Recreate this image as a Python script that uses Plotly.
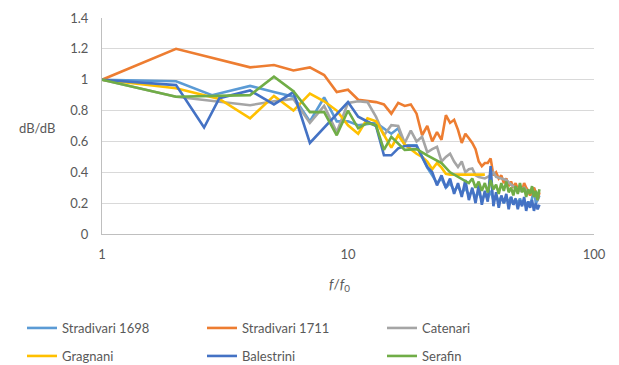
import plotly.graph_objects as go

# ---- data ----
names = ["Stradivari 1698", "Stradivari 1711", "Catenari", "Gragnani", "Balestrini", "Serafin"]
colors = ["#5B9BD5", "#ED7D31", "#A5A5A5", "#FFC000", "#4472C4", "#70AD47"]

x_s1698 = [1, 2, 2.8, 4, 5, 6, 7, 8, 9, 10, 11, 13, 15, 16, 17, 18, 19, 20, 21, 22, 23, 24, 25, 26, 27, 28, 29, 30,
           31, 32, 33, 34, 35, 36, 37, 38, 39, 40, 41, 42, 43, 44, 45, 46, 47, 48, 49, 50, 51, 52, 53, 54, 55, 56,
           57, 58, 59, 60]
y_s1698 = [1.0, 0.99, 0.90, 0.96, 0.92, 0.89, 0.73, 0.885, 0.73, 0.73, 0.705, 0.72, 0.65, 0.685, 0.575, 0.575, 0.575,
           0.50, 0.43, 0.38, 0.33, 0.36, 0.30, 0.33, 0.28, 0.31, 0.26, 0.30, 0.25, 0.28, 0.24, 0.27, 0.22, 0.26,
           0.23, 0.28, 0.22, 0.25, 0.21, 0.24, 0.20, 0.23, 0.21, 0.24, 0.19, 0.22, 0.20, 0.23, 0.19, 0.22, 0.18,
           0.21, 0.19, 0.23, 0.30, 0.20, 0.22, 0.25]

x_s1711 = [1, 2, 4, 5, 6, 7, 8, 9, 10, 11, 13, 14, 15, 16, 17, 18, 19, 20, 21, 22, 23, 24, 25, 26, 27, 28, 29, 30,
           31, 32, 33, 34, 35, 36, 37, 38, 39, 40, 41, 42, 43, 44, 45, 46, 47, 48, 49, 50, 51, 52, 53, 54, 55, 56,
           57, 58, 59, 60]
y_s1711 = [1.0, 1.2, 1.08, 1.095, 1.06, 1.08, 1.03, 0.92, 0.935, 0.87, 0.855, 0.84, 0.78, 0.85, 0.83, 0.84, 0.78,
           0.64, 0.70, 0.60, 0.66, 0.61, 0.77, 0.72, 0.74, 0.675, 0.59, 0.65, 0.62, 0.59, 0.55, 0.47, 0.44, 0.46,
           0.46, 0.49, 0.38, 0.40, 0.36, 0.38, 0.33, 0.36, 0.31, 0.34, 0.30, 0.33, 0.29, 0.31, 0.28, 0.33, 0.30,
           0.27, 0.25, 0.28, 0.30, 0.27, 0.22, 0.27]

x_cat = [1, 2, 4, 5, 6, 7, 8, 9, 10, 11, 12, 13, 14, 15, 16, 17, 18, 19, 20, 21, 22, 23, 24, 25, 26, 27, 28, 29,
         30, 31, 32, 33, 34, 36, 38, 39, 40, 42, 44, 46, 48, 50, 52, 54, 56, 58, 60]
y_cat = [1.0, 0.89, 0.835, 0.86, 0.875, 0.72, 0.83, 0.66, 0.85, 0.86, 0.855, 0.76, 0.64, 0.705, 0.70, 0.59, 0.67,
         0.60, 0.63, 0.53, 0.55, 0.565, 0.47, 0.50, 0.52, 0.47, 0.435, 0.47, 0.40, 0.42, 0.425, 0.38, 0.37, 0.36,
         0.38, 0.40, 0.37, 0.36, 0.35, 0.32, 0.30, 0.28, 0.30, 0.27, 0.28, 0.26, 0.27]

x_gra = [1, 2, 3, 4, 5, 6, 7, 8, 9, 10, 11, 12, 13, 14, 15, 16, 17, 18, 19, 20, 21, 22, 23, 24, 25, 26, 27, 36]
y_gra = [1.0, 0.945, 0.875, 0.75, 0.895, 0.80, 0.91, 0.86, 0.80, 0.705, 0.65, 0.75, 0.73, 0.64, 0.56, 0.64, 0.58,
         0.55, 0.52, 0.50, 0.47, 0.42, 0.46, 0.43, 0.39, 0.385, 0.385, 0.385]

x_bal = [1, 2, 2.6, 3, 4, 5, 6, 7, 10, 11, 13, 14, 15, 16, 17, 19, 21, 22, 23, 24, 25, 26, 27, 28, 29, 30, 31, 32,
         33, 34, 35, 36, 37, 38, 39, 40, 41, 42, 43, 44, 45, 46, 47, 48, 49, 50, 51, 52, 53, 54, 55, 56, 57, 58,
         59, 60]
y_bal = [1.0, 0.965, 0.69, 0.88, 0.93, 0.84, 0.92, 0.59, 0.855, 0.76, 0.70, 0.51, 0.51, 0.555, 0.57, 0.57, 0.435,
         0.40, 0.315, 0.38, 0.30, 0.36, 0.26, 0.33, 0.24, 0.35, 0.22, 0.30, 0.20, 0.32, 0.19, 0.28, 0.21, 0.44,
         0.18, 0.27, 0.17, 0.25, 0.20, 0.26, 0.16, 0.24, 0.19, 0.23, 0.16, 0.22, 0.18, 0.24, 0.15, 0.21, 0.17,
         0.22, 0.15, 0.20, 0.16, 0.19]

x_ser = [1, 2, 4, 5, 6, 7, 8, 9, 10, 11, 12, 13, 14, 15, 17, 19, 21, 24, 26, 28, 30, 31, 32, 33, 34, 35, 36, 37,
         38, 39, 40, 41, 42, 43, 44, 45, 46, 47, 48, 49, 50, 51, 52, 53, 54, 55, 56, 57, 58, 59, 60]
y_ser = [1.0, 0.89, 0.90, 1.02, 0.925, 0.79, 0.79, 0.64, 0.80, 0.685, 0.72, 0.705, 0.545, 0.63, 0.545, 0.55, 0.51,
         0.46, 0.40, 0.37, 0.34, 0.33, 0.36, 0.30, 0.34, 0.28, 0.33, 0.27, 0.35, 0.29, 0.32, 0.26, 0.33, 0.28,
         0.34, 0.27, 0.30, 0.25, 0.31, 0.26, 0.33, 0.27, 0.30, 0.24, 0.29, 0.26, 0.31, 0.24, 0.28, 0.22, 0.29]

xs = [x_s1698, x_s1711, x_cat, x_gra, x_bal, x_ser]
ys = [y_s1698, y_s1711, y_cat, y_gra, y_bal, y_ser]

y_ticks = [0, 0.2, 0.4, 0.6, 0.8, 1, 1.2, 1.4]
y_ticktext = ["0", "0.2", "0.4", "0.6", "0.8", "1", "1.2", "1.4"]
x_ticks = [1, 10, 100]
x_ticktext = ["1", "10", "100"]

FONT = "Lato"
TXT = "#595959"

fig = go.Figure()
for i, (n, c, x, y) in enumerate(zip(names, colors, xs, ys)):
    fig.add_trace(go.Scatter(
        x=x, y=y, name=n, mode="lines",
        line=dict(color=c, width=2.6),
        legend="legend" if i < 3 else "legend2",
    ))

W, H = 619, 365
L, R, T, B = 102, 25, 18, 131
pw, ph = W - L - R, H - T - B

def px(xp):
    return (xp - L) / pw

def py(yp):
    return (H - B - yp) / ph

legend_common = dict(
    orientation="h", entrywidth=135, entrywidthmode="pixels",
    font=dict(family=FONT, size=13, color=TXT),
    bgcolor="rgba(0,0,0,0)", itemwidth=30,
    xanchor="left", yanchor="middle",
    tracegroupgap=0,
)

fig.update_layout(
    width=W, height=H,
    margin=dict(l=L, r=R, t=T, b=B, autoexpand=False),
    paper_bgcolor="white", plot_bgcolor="white",
    font=dict(family=FONT, size=13, color=TXT),
    showlegend=True,
    legend=dict(x=px(22), y=py(328), **legend_common),
    legend2=dict(x=px(22), y=py(356), **legend_common),
    xaxis=dict(
        type="log", range=[0, 2],
        tickvals=x_ticks, ticktext=x_ticktext,
        showgrid=False, zeroline=False,
        showline=True, linecolor="#BFBFBF", linewidth=1,
        ticks="", ticklabelstandoff=8,
        tickfont=dict(family=FONT, size=13, color=TXT),
    ),
    yaxis=dict(
        range=[0, 1.4],
        tickvals=y_ticks, ticktext=y_ticktext,
        showgrid=True, gridcolor="#D9D9D9", gridwidth=1,
        zeroline=False,
        showline=True, linecolor="#BFBFBF", linewidth=1,
        ticks="", ticklabelstandoff=10,
        tickfont=dict(family=FONT, size=13, color=TXT),
    ),
    annotations=[
        dict(text="dB/dB", x=px(37), y=py(128), xref="paper", yref="paper",
             showarrow=False, xanchor="center", yanchor="middle",
             font=dict(family=FONT, size=13, color=TXT)),
        dict(text="<i>f</i>/<i>f</i><sub>0</sub>", x=px(339), y=py(284), xref="paper", yref="paper",
             showarrow=False, xanchor="center", yanchor="middle",
             font=dict(family=FONT, size=14, color=TXT)),
    ],
)

fig.write_html("out.html", config={"displayModeBar": False},
               post_script="document.body.style.margin='0px';")
